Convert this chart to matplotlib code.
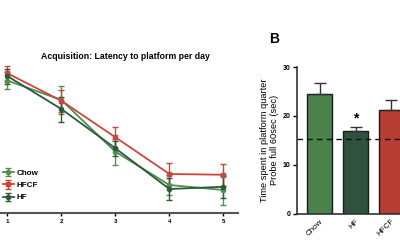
import matplotlib.pyplot as plt

# Panel A: latency to platform per day
dias = [1, 2, 3, 4, 5]
chow_lat = [53.0, 45.2, 24.5, 11.2, 9.2]
chow_err = [3.5, 5.5, 5.3, 4.0, 6.0]
hfcf_lat = [55.9, 44.9, 30.3, 15.6, 15.3]
hfcf_err = [3.0, 4.5, 4.3, 4.5, 4.5]
hf_lat = [54.8, 41.6, 25.9, 9.6, 10.5]
hf_err = [3.0, 5.0, 3.0, 4.4, 4.5]

# Panel B: time in platform quarter
grupos = ['Chow', 'HF', 'HFCF']
tiempo = [24.4, 16.8, 21.2]
tiempo_err = [2.4, 0.9, 2.1]
azar = 15.3

c_chow = '#4f8f4f'
c_hf = '#2d5a3c'
c_hfcf = '#cc463d'
bar_cols = ['#4b814b', '#2f523e', '#b83d35']

plt.rcParams['font.family'] = ['Liberation Sans', 'DejaVu Sans']

fig = plt.figure(figsize=(4, 2.5), dpi=100)

# --- panel A ---
ax = fig.add_axes([0.0, 0.148, 0.595, 0.6])
series = [('Chow', chow_lat, chow_err, c_chow, 'o'),
          ('HFCF', hfcf_lat, hfcf_err, c_hfcf, 's'),
          ('HF', hf_lat, hf_err, c_hf, 'o')]
for nombre, vals, errs, col, mk in series:
    ax.errorbar(dias, vals, yerr=errs, color=col, marker=mk, ms=3, lw=1.3,
                elinewidth=1.0, capsize=2, capthick=1.0, label=nombre)
ax.set_xlim(0.865, 5.27)
ax.set_ylim(0, 60)
for s in ['top', 'right', 'left']:
    ax.spines[s].set_visible(False)
ax.spines['bottom'].set_color('#555555')
ax.spines['bottom'].set_linewidth(1.5)
ax.set_yticks([])
ax.set_xticks(dias)
ax.tick_params(axis='x', labelsize=4.5, length=2, width=1, pad=2)
for t in ax.get_xticklabels():
    t.set_fontweight('bold')
ax.set_title('Acquisition: Latency to platform per day', fontsize=6.3,
             fontweight='bold', pad=3, x=0.528)
leg = ax.legend(loc='lower left', bbox_to_anchor=(-0.01, 0.04), frameon=False,
                prop={'size': 5.8, 'weight': 'bold'}, handlelength=1.3,
                handletextpad=0.4, labelspacing=0.55, borderpad=0.2)

# --- panel B ---
bx = fig.add_axes([0.7425, 0.146, 0.2925, 0.586])
pos = range(len(grupos))
bx.bar(pos, tiempo, width=0.71, color=bar_cols, edgecolor='#1a1a1a', lw=1.0,
       yerr=[[0, 0, 0], tiempo_err], error_kw=dict(ecolor='#333333', elinewidth=1.0,
                                                   capsize=4, capthick=1.0))
bx.axhline(azar, color='#111111', lw=1.0, ls=(0, (4, 3)))
bx.set_xlim(-0.64, 2.64)
bx.set_ylim(0, 30)
bx.set_yticks([0, 10, 20, 30])
bx.set_xticks(list(pos))
bx.set_xticklabels(grupos, rotation=45, ha='right', rotation_mode='anchor', fontsize=5.8)
bx.tick_params(axis='y', labelsize=5, length=3, width=1, pad=1.5)
bx.tick_params(axis='x', length=0, pad=3)
for t in bx.get_yticklabels():
    t.set_fontweight('bold')
for s in ['top', 'right']:
    bx.spines[s].set_visible(False)
for s in ['left', 'bottom']:
    bx.spines[s].set_linewidth(1.2)
    bx.spines[s].set_color('#333333')
bx.set_ylabel('Time spent in platform quarter\nProbe full 60sec (sec)', fontsize=6.7,
              labelpad=3, linespacing=1.15)
bx.text(1, tiempo[1] + tiempo_err[1] + 0.3, '*', ha='center', va='bottom',
        fontsize=10, fontweight='bold')
fig.text(0.672, 0.845, 'B', fontsize=10, fontweight='bold', ha='left', va='center')

fig.savefig('out.png', dpi=100)
